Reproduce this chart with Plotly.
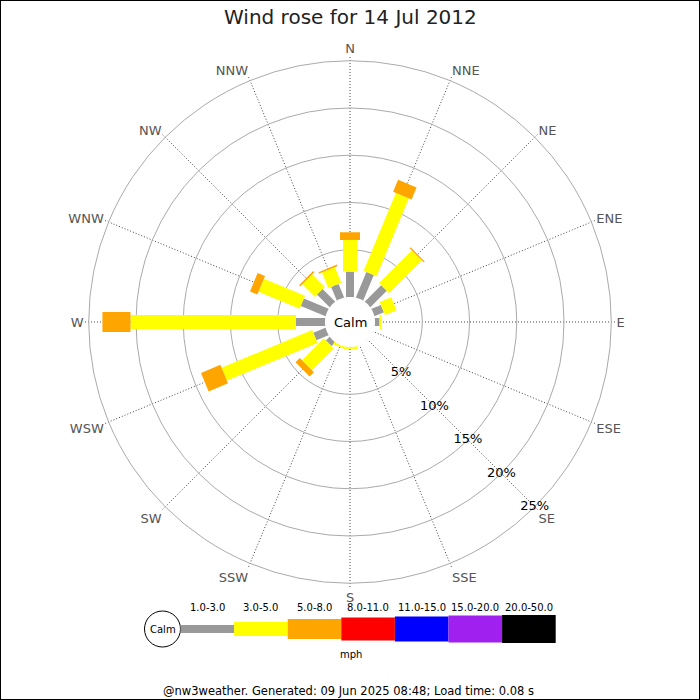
import plotly.graph_objects as go

# ---------------- data ----------------
directions = ["N", "NNE", "NE", "ENE", "E", "ESE", "SE", "SSE",
              "S", "SSW", "SW", "WSW", "W", "WNW", "NW", "NNW"]
bearings = [i * 22.5 for i in range(16)]

speed_classes = ["1.0-3.0", "3.0-5.0", "5.0-8.0", "8.0-11.0",
                 "11.0-15.0", "15.0-20.0", "20.0-50.0"]
class_colors = ["#999999", "#ffff00", "#ffa500", "#ff0000",
                "#0000ff", "#a020f0", "#000000"]
class_widths = [8, 14, 20, 23, 25, 27, 28]

# percentage of observations per direction, per speed class
pct_1_3 = [2.68, 2.91, 2.44, 1.06, 0.48, 0, 0, 0, 0, 0, 0.53, 1.38, 3.07, 2.81, 1.88, 1.54]
pct_3_5 = [3.36, 8.91, 4.90, 1.32, 0.16, 0, 0, 0, 0.2, 0.2, 3.28, 10.38, 17.51, 4.71, 1.86, 1.80]
pct_5_8 = [0.81, 1.38, 0.13, 0, 0, 0, 0, 0, 0, 0, 0.64, 2.22, 2.97, 0.85, 0.18, 0.16]
class_values = [pct_1_3, pct_3_5, pct_5_8]

radial_ticks = [5, 10, 15, 20, 25]
radial_labels = ["5%", "10%", "15%", "20%", "25%"]
title_text = "Wind rose for 14 Jul 2012"
footer_text = "@nw3weather. Generated: 09 Jun 2025 08:48; Load time: 0.08 s"
unit_text = "mph"

# ---------------- geometry ----------------
R_MIN = -2.65   # centre of the rose (calm disc covers r < 0)
R_MAX = 25.5
LABEL_BEARING = 135

fig = go.Figure()

cum = [R_MIN] * len(directions)
for ci, vals in enumerate(class_values):
    for di, v in enumerate(vals):
        if v <= 0:
            continue
        start = cum[di]
        end = (0 if cum[di] == R_MIN else cum[di]) + v
        fig.add_trace(go.Scatterpolar(
            r=[start, end], theta=[bearings[di], bearings[di]],
            mode="lines", line=dict(color=class_colors[ci], width=class_widths[ci]),
            showlegend=False, hoverinfo="skip"))
        cum[di] = end

# white calm disc
disc_theta = [i * 5 for i in range(73)]
fig.add_trace(go.Scatterpolar(
    r=[0] * len(disc_theta), theta=disc_theta, mode="lines",
    fill="toself", fillcolor="white", line=dict(color="white", width=0),
    showlegend=False, hoverinfo="skip"))

# radial percentage labels along the SE spoke
fig.add_trace(go.Scatterpolar(
    r=radial_ticks, theta=[LABEL_BEARING] * len(radial_ticks),
    mode="text", text=radial_labels, textposition="middle center",
    textfont=dict(size=13, color="black", family="DejaVu Sans"),
    showlegend=False, hoverinfo="skip", cliponaxis=False))

cx, cy = 350 / 700, 1 - 322 / 700
half = 266 / 700
fig.update_layout(
    width=700, height=700,
    margin=dict(l=0, r=0, t=0, b=0),
    paper_bgcolor="white", plot_bgcolor="white",
    font=dict(family="DejaVu Sans", color="black"),
    showlegend=False,
    polar=dict(
        domain=dict(x=[cx - half, cx + half], y=[cy - half, cy + half]),
        bgcolor="white",
        angularaxis=dict(
            direction="clockwise", rotation=90,
            tickmode="array", tickvals=bearings, ticktext=directions,
            showgrid=True, gridcolor="#444444", griddash="1px,2px", gridwidth=1,
            showline=False, ticks="",
            tickfont=dict(size=13, color="#555555"),
        ),
        radialaxis=dict(
            range=[R_MIN, R_MAX], tickmode="array", tickvals=radial_ticks,
            showticklabels=False, angle=-45, showline=False, ticks="",
            gridcolor="#aaaaaa", gridwidth=1,
        ),
    ),
)


def ann(text, px, py, size, color="black"):
    return dict(text=text, x=px / 700, y=1 - py / 700, xref="paper", yref="paper",
                xanchor="center", yanchor="middle", showarrow=False,
                font=dict(size=size, color=color))


annotations = [
    ann(title_text, 350, 17, 20, "#222222"),
    ann("Calm", 350, 322, 13),
    ann(footer_text, 348, 691, 11.5),
    ann(unit_text, 351, 654, 10),
    ann("Calm", 162.5, 629, 10),
]

shapes = [
    dict(type="rect", xref="paper", yref="paper", x0=0, y0=0, x1=1, y1=1,
         line=dict(color="black", width=2)),
    dict(type="circle", xref="paper", yref="paper",
         x0=144.5 / 700, x1=180.5 / 700, y0=1 - 647 / 700, y1=1 - 611 / 700,
         line=dict(color="black", width=1)),
]
seg_x0, seg_w, leg_y = 180.5, 53.6, 629
for i, (lab, col, w) in enumerate(zip(speed_classes, class_colors, class_widths)):
    x0 = seg_x0 + i * seg_w
    x1 = x0 + seg_w
    shapes.append(dict(type="rect", xref="paper", yref="paper",
                       x0=x0 / 700, x1=x1 / 700,
                       y0=1 - (leg_y + w / 2) / 700, y1=1 - (leg_y - w / 2) / 700,
                       fillcolor=col, line=dict(width=0)))
    annotations.append(ann(lab, (x0 + x1) / 2, 607, 10))

fig.update_layout(annotations=annotations, shapes=shapes)
fig.write_html("out.html", config={"displayModeBar": False},
               post_script="document.body.style.margin='0';")
